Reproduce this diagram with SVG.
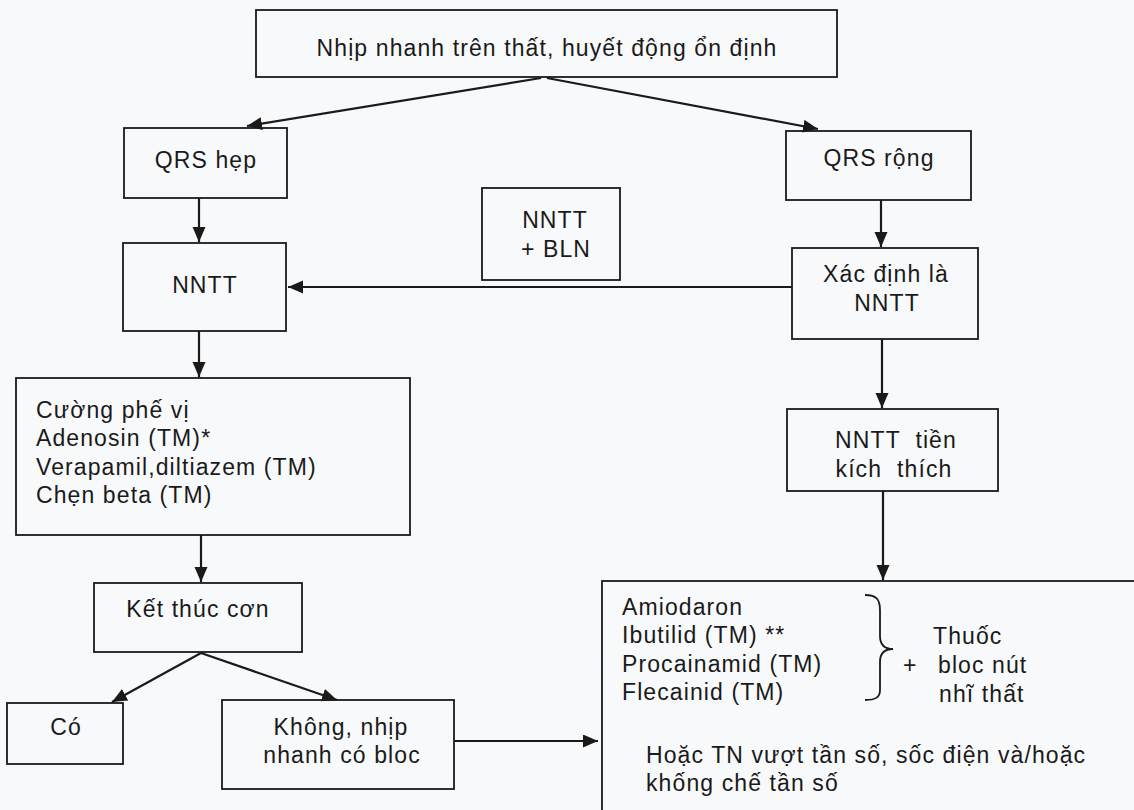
<svg xmlns="http://www.w3.org/2000/svg" width="1134" height="810" viewBox="0 0 1134 810">
<defs>
<style>
.box{fill:none;stroke:#1a1a1a;stroke-width:1.8}
.t{font-family:"Liberation Sans",Arial,sans-serif;font-size:23px;fill:#1a1a1a;letter-spacing:1.1px}
.c{text-anchor:middle}
.ln{stroke:#1a1a1a;stroke-width:2.2;fill:none}
</style>
<marker id="ah" markerUnits="userSpaceOnUse" markerWidth="16" markerHeight="14" refX="15" refY="6.5" orient="auto">
<path d="M0,0 L15,6.5 L0,13 z" fill="#1a1a1a"/>
</marker>
</defs>
<rect width="1134" height="810" fill="#f8f9fa"/>

<g id="connectors">
<line class="ln" x1="541" y1="78" x2="247" y2="126" marker-end="url(#ah)"/>
<line class="ln" x1="547" y1="78" x2="818" y2="129" marker-end="url(#ah)"/>
<line class="ln" x1="199" y1="198" x2="199" y2="242" marker-end="url(#ah)"/>
<line class="ln" x1="881" y1="200" x2="881" y2="247" marker-end="url(#ah)"/>
<line class="ln" x1="792" y1="287" x2="288" y2="287" marker-end="url(#ah)"/>
<line class="ln" x1="199" y1="331" x2="199" y2="377" marker-end="url(#ah)"/>
<line class="ln" x1="882" y1="339" x2="882" y2="408" marker-end="url(#ah)"/>
<line class="ln" x1="883" y1="491" x2="883" y2="580" marker-end="url(#ah)"/>
<line class="ln" x1="201" y1="535" x2="201" y2="582" marker-end="url(#ah)"/>
<line class="ln" x1="201" y1="653" x2="112" y2="702" marker-end="url(#ah)"/>
<line class="ln" x1="201" y1="653" x2="337" y2="700" marker-end="url(#ah)"/>
<line class="ln" x1="454" y1="741" x2="598" y2="741" marker-end="url(#ah)"/>
</g>

<g id="n_top">
<rect class="box" x="256" y="10" width="581" height="67"/>
<text class="t c" x="547" y="56">Nhịp nhanh trên thất, huyết động ổn định</text>
</g>
<g id="n_qrs_hep">
<rect class="box" x="124" y="128" width="163" height="70"/>
<text class="t c" x="206" y="168">QRS hẹp</text>
</g>
<g id="n_qrs_rong">
<rect class="box" x="786" y="131" width="185" height="69"/>
<text class="t c" x="879" y="166">QRS rộng</text>
</g>
<g id="n_nntt_bln">
<rect class="box" x="482" y="188" width="138" height="92"/>
<text class="t c" x="555" y="228">NNTT</text>
<text class="t c" x="556" y="257">+ BLN</text>
</g>
<g id="n_nntt">
<rect class="box" x="123" y="243" width="163" height="88"/>
<text class="t c" x="205" y="293">NNTT</text>
</g>
<g id="n_xacdinh">
<rect class="box" x="792" y="248" width="186" height="91"/>
<text class="t c" x="886" y="282">Xác định là</text>
<text class="t c" x="887" y="311">NNTT</text>
</g>
<g id="n_cuongphevi">
<rect class="box" x="16" y="378" width="394" height="157"/>
<text class="t" x="36" y="418">Cường phế vị</text>
<text class="t" x="36" y="446">Adenosin (TM)*</text>
<text class="t" x="36" y="475">Verapamil,diltiazem (TM)</text>
<text class="t" x="36" y="503">Chẹn beta (TM)</text>
</g>
<g id="n_tienkichthich">
<rect class="box" x="787" y="409" width="211" height="82"/>
<text class="t c" x="896" y="448" xml:space="preserve">NNTT  tiền</text>
<text class="t c" x="894" y="477" xml:space="preserve">kích  thích</text>
</g>
<g id="n_ketthuc">
<rect class="box" x="94" y="583" width="208" height="69"/>
<text class="t c" x="198" y="617">Kết thúc cơn</text>
</g>
<g id="n_co">
<rect class="box" x="7" y="703" width="116" height="61"/>
<text class="t c" x="66" y="735">Có</text>
</g>
<g id="n_khong">
<rect class="box" x="222" y="700" width="232" height="89"/>
<text class="t c" x="341" y="735">Không, nhịp</text>
<text class="t c" x="342" y="763">nhanh có bloc</text>
</g>
<g id="n_thuoc">
<rect class="box" x="602" y="581" width="600" height="300"/>
<text class="t" x="622" y="615">Amiodaron</text>
<text class="t" x="622" y="643">Ibutilid (TM) **</text>
<text class="t" x="622" y="672">Procainamid (TM)</text>
<text class="t" x="622" y="700">Flecainid (TM)</text>
<path class="ln" style="stroke-width:1.8" d="M865,595 C877,595 880,600 880,610 L880,636 C880,645 884,649 893,649 C884,649 880,653 880,662 L880,690 C880,697 876,700 865,700"/>
<text class="t" x="933" y="644">Thuốc</text>
<text class="t" x="903" y="673">+</text>
<text class="t" x="938" y="673">bloc nút</text>
<text class="t" x="939" y="702">nhĩ thất</text>
<text class="t" x="646" y="763">Hoặc TN vượt tần số, sốc điện và/hoặc</text>
<text class="t" x="646" y="791">khống chế tần số</text>
</g>
</svg>
